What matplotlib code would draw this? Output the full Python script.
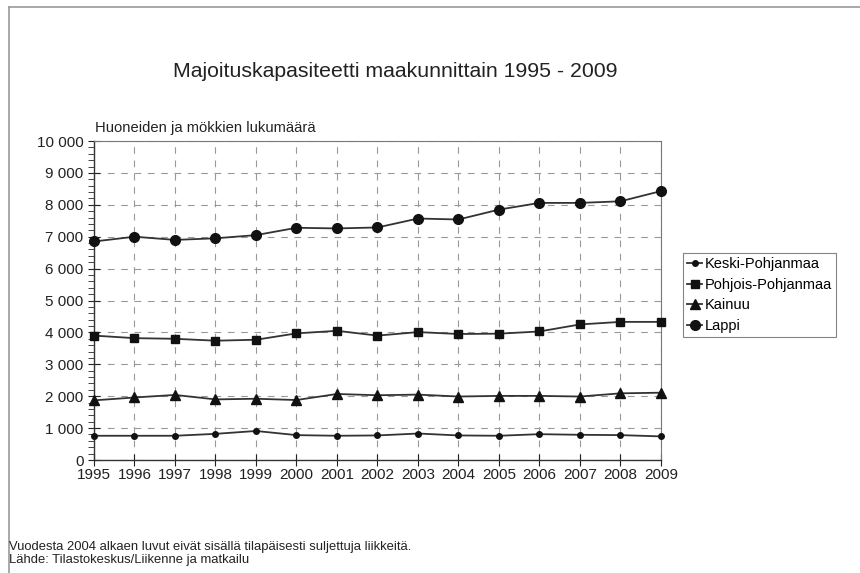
import matplotlib
matplotlib.use("Agg")
import matplotlib.pyplot as plt
from matplotlib.ticker import MultipleLocator, FuncFormatter
from matplotlib.lines import Line2D

plt.rcParams['font.family'] = ['Liberation Sans', 'DejaVu Sans']

# data
years = list(range(1995, 2010))
keski = [760, 760, 760, 820, 910, 780, 760, 770, 830, 770, 760, 810, 790, 780, 740]
pohjois = [3900, 3820, 3800, 3740, 3770, 3970, 4050, 3900, 4010, 3950, 3960, 4030, 4250, 4330, 4330]
kainuu = [1870, 1960, 2040, 1900, 1920, 1880, 2070, 2030, 2050, 1990, 2010, 2010, 1990, 2090, 2110]
lappi = [6850, 7000, 6900, 6950, 7050, 7280, 7260, 7290, 7570, 7540, 7850, 8060, 8060, 8110, 8430]

series = [
    ("Keski-Pohjanmaa", keski, "o", 4),
    ("Pohjois-Pohjanmaa", pohjois, "s", 6),
    ("Kainuu", kainuu, "^", 7),
    ("Lappi", lappi, "o", 7),
]

fig = plt.figure(figsize=(8.6, 5.73), dpi=100)
ax = fig.add_axes([0.1093, 0.1972, 0.6593, 0.5567])

for name, vals, mk, ms in series:
    ax.plot(years, vals, color="#333333", lw=1.3, marker=mk, ms=ms,
            markerfacecolor="#111111", markeredgecolor="#111111", label=name,
            clip_on=False, zorder=3)

ax.set_xlim(1995, 2009)
ax.set_ylim(0, 10000)
ax.set_xticks(years)
ax.yaxis.set_major_locator(MultipleLocator(1000))
ax.yaxis.set_minor_locator(MultipleLocator(200))
ax.yaxis.set_major_formatter(FuncFormatter(lambda v, p: f"{int(v):,}".replace(",", " ")))
ax.tick_params(axis="both", which="major", direction="inout", length=8, width=0.8,
               labelsize=11, colors="#222222")
ax.tick_params(axis="y", which="minor", direction="out", length=4, width=0.7, colors="#444444")
ax.tick_params(axis="x", pad=2)

ax.grid(True, which="major", color="#999999", lw=0.8, ls=(0, (6, 6)))
ax.set_axisbelow(True)
for s in ["top", "right"]:
    ax.spines[s].set_color("#777777")
    ax.spines[s].set_linewidth(0.8)
for s in ["left", "bottom"]:
    ax.spines[s].set_color("#333333")
    ax.spines[s].set_linewidth(1.0)

fig.text(0.46, 0.875, "Majoituskapasiteetti maakunnittain 1995 - 2009",
         ha="center", va="center", fontsize=15.3, color="#222222")
fig.text(0.11, 0.777, "Huoneiden ja mökkien lukumäärä", ha="left", va="center",
         fontsize=10.6, color="#222222")

leg = fig.legend(loc="upper left", bbox_to_anchor=(0.794, 0.5585), fontsize=10.5,
                 frameon=True, fancybox=False, edgecolor="#666666", handlelength=1.0,
                 handletextpad=0.2, labelspacing=0.45, borderpad=0.3, borderaxespad=0)
leg.get_frame().set_linewidth(0.8)

fig.text(0.01, 0.045, "Vuodesta 2004 alkaen luvut eivät sisällä tilapäisesti suljettuja liikkeitä.",
         ha="left", va="center", fontsize=9.4, color="#222222")
fig.text(0.01, 0.022, "Lähde: Tilastokeskus/Liikenne ja matkailu",
         ha="left", va="center", fontsize=9.4, color="#222222")

# frame lines of the scanned page
fig.add_artist(Line2D([0.0105, 1.0], [0.988, 0.988], transform=fig.transFigure,
                      color="#999999", lw=1.2))
fig.add_artist(Line2D([0.0105, 0.0105], [0.0, 0.988], transform=fig.transFigure,
                      color="#999999", lw=1.2))

fig.savefig("out.png", dpi=100)
